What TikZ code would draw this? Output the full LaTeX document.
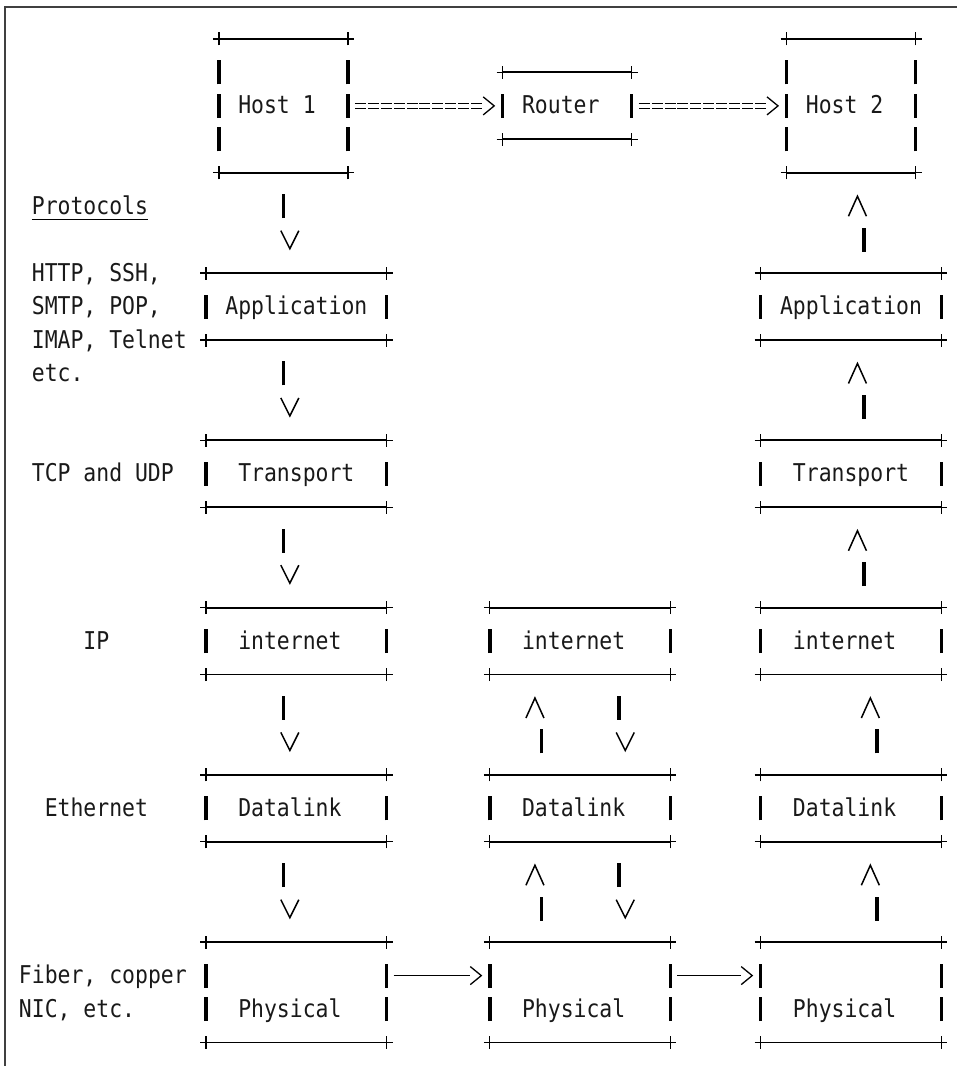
\documentclass[tikz,border=0pt]{standalone}
\usepackage{fontspec}
\newfontfamily\asciifont[FakeStretch=0.875]{DejaVu Sans Mono}

% centre of a character cell
\newcommand{\cx}[1]{\zerox+(#1)*\colw}
\newcommand{\cy}[1]{\zeroy-(#1)*\rowh}

% box of + - and | : left col, right col, top row, bottom row
\newcommand{\asciibox}[4]{%
	\draw[dashrule] ({\cx{#1}},{\cy{#3}}) -- ({\cx{#2}},{\cy{#3}});
	\draw[dashrule] ({\cx{#1}},{\cy{#4}}) -- ({\cx{#2}},{\cy{#4}});
	\pgfmathtruncatemacro{\rowa}{#3+1}%
	\pgfmathtruncatemacro{\rowb}{#4-1}%
	\foreach \bx in {#1,#2}{%
		\foreach \by in {#3,#4}
			\draw[plusmark] ({\cx{\bx}},{\cy{\by}}) ++(-6,0) -- ++(12,0) ++(-6,-6.5) -- ++(0,13);
		\foreach \by in {\rowa,...,\rowb}
			\draw[sidebar] ({\cx{\bx}},{\cy{\by}}) ++(0,-12) -- ++(0,24);
	}%
}

% | over V
\newcommand{\arrowdown}[2]{%
	\draw[sidebar] ({\cx{#1}},{\cy{#2}}) ++(0,-12) -- ++(0,24);
	\draw[chev] ({\cx{#1+0.5}},{\cy{#2+1}}) ++(-9,9) -- ++(9,-18) -- ++(9,18);
}

% ^ over |
\newcommand{\arrowup}[2]{%
	\draw[chev] ({\cx{#1}},{\cy{#2}}) ++(-9,-10) -- ++(9,20) -- ++(9,-20);
	\draw[sidebar] ({\cx{#1+0.5}},{\cy{#2+1}}) ++(0,-12) -- ++(0,24);
}

% > just before a bar
\newcommand{\arrowtip}[1]{%
	\draw[headline] ([shift={(-19.5,9)}]#1) -- ([xshift=-8.5pt]#1) -- ([shift={(-19.5,-9)}]#1);
}

\begin{document}
\begin{tikzpicture}[x=1pt,y=1pt,
	dashrule/.style={line width=1.9pt},
	plusmark/.style={line width=1.3pt},
	sidebar/.style={line width=3.4pt},
	chev/.style={line width=1.5pt},
	headline/.style={line width=1.3pt},
	dashline/.style={line width=1.7pt},
	eqline/.style={double,line width=1.1pt,double distance=3.4pt,dash pattern=on 11pt off 1.9pt},
	uline/.style={line width=1.4pt},
	screenframe/.style={line width=2.3pt,black!75},
	lbl/.style={font=\asciifont\fontsize{24.5}{24.5}\selectfont,anchor=base west,inner sep=0pt,outer sep=0pt,text=black!90}]
	
	\pgfmathsetmacro{\zerox}{25.4}
	\pgfmathsetmacro{\zeroy}{1027}
	\pgfmathsetmacro{\colw}{12.9}
	\pgfmathsetmacro{\rowh}{33.45}
	
	\useasboundingbox (0,0) rectangle (957,1066);
	
	% draw outline
	\draw[screenframe] (5,0) -- (5,1059) -- (957,1059);
	
	% hosts and router
	\asciibox{15}{25}{0}{4}
	\asciibox{37}{47}{1}{3}
	\asciibox{59}{69}{0}{4}
	
	% layer boxes
	\foreach \ly in {7,12,17,22}{
		\asciibox{14}{28}{\ly}{\ly+2}
		\asciibox{57}{71}{\ly}{\ly+2}
	}
	\foreach \ly in {17,22}{
		\asciibox{36}{50}{\ly}{\ly+2}
	}
	\asciibox{14}{28}{27}{30}
	\asciibox{36}{50}{27}{30}
	\asciibox{57}{71}{27}{30}
	
	% vertical arrows
	\foreach \ly in {5,10,15,20,25}{
		\arrowdown{20}{\ly}
	}
	\foreach \ly in {5,10,15}{
		\arrowup{64.5}{\ly}
	}
	\foreach \ly in {20,25}{
		\arrowup{39.5}{\ly}
		\arrowdown{46}{\ly}
		\arrowup{65.5}{\ly}
	}
	
	% ends of the horizontal links
	\coordinate (h1r) at ({\cx{25}},{\cy{2}});
	\coordinate (rtl) at ({\cx{37}},{\cy{2}});
	\coordinate (rtr) at ({\cx{47}},{\cy{2}});
	\coordinate (h2l) at ({\cx{59}},{\cy{2}});
	\coordinate (ph1r) at ({\cx{28}},{\cy{28}});
	\coordinate (ph2l) at ({\cx{36}},{\cy{28}});
	\coordinate (ph2r) at ({\cx{50}},{\cy{28}});
	\coordinate (ph3l) at ({\cx{57}},{\cy{28}});
	
	% horizontal links
	\draw[eqline] ([xshift=7pt]h1r) -- ([xshift=-19.5pt]rtl);
	\arrowtip{rtl}
	\draw[eqline] ([xshift=7pt]rtr) -- ([xshift=-19.5pt]h2l);
	\arrowtip{h2l}
	\draw[dashline] ([xshift=7pt]ph1r) -- ([xshift=-19.5pt]ph2l);
	\arrowtip{ph2l}
	\draw[dashline] ([xshift=7pt]ph2r) -- ([xshift=-19.5pt]ph3l);
	\arrowtip{ph3l}
	
	% box names
	\path[every node/.style=lbl]
		({\cx{17}-6.45},{\cy{2}-8})  node (host1) {Host 1}
		({\cx{39}-6.45},{\cy{2}-8})  node (router) {Router}
		({\cx{61}-6.45},{\cy{2}-8})  node (host2) {Host 2}
		({\cx{16}-6.45},{\cy{8}-8})  node (app1) {Application}
		({\cx{59}-6.45},{\cy{8}-8})  node (app3) {Application}
		({\cx{17}-6.45},{\cy{13}-8}) node (tra1) {Transport}
		({\cx{60}-6.45},{\cy{13}-8}) node (tra3) {Transport}
		({\cx{17}-6.45},{\cy{18}-8}) node (net1) {internet}
		({\cx{39}-6.45},{\cy{18}-8}) node (net2) {internet}
		({\cx{60}-6.45},{\cy{18}-8}) node (net3) {internet}
		({\cx{17}-6.45},{\cy{23}-8}) node (dl1) {Datalink}
		({\cx{39}-6.45},{\cy{23}-8}) node (dl2) {Datalink}
		({\cx{60}-6.45},{\cy{23}-8}) node (dl3) {Datalink}
		({\cx{17}-6.45},{\cy{29}-8}) node (ph1) {Physical}
		({\cx{39}-6.45},{\cy{29}-8}) node (ph2) {Physical}
		({\cx{60}-6.45},{\cy{29}-8}) node (ph3) {Physical};
	
	% protocols on the left
	\path[every node/.style=lbl]
		({\cx{1}-6.45},{\cy{5}-8})  node (proto) {Protocols}
		({\cx{1}-6.45},{\cy{7}-8})  node (appa) {HTTP, SSH,}
		({\cx{1}-6.45},{\cy{8}-8})  node (appb) {SMTP, POP,}
		({\cx{1}-6.45},{\cy{9}-8})  node (appc) {IMAP, Telnet}
		({\cx{1}-6.45},{\cy{10}-8}) node (appd) {etc.}
		({\cx{1}-6.45},{\cy{13}-8}) node (tcp) {TCP and UDP}
		({\cx{5}-6.45},{\cy{18}-8}) node (ip) {IP}
		({\cx{2}-6.45},{\cy{23}-8}) node (eth) {Ethernet}
		({\cx{0}-6.45},{\cy{28}-8}) node (fib) {Fiber, copper}
		({\cx{0}-6.45},{\cy{29}-8}) node (nic) {NIC, etc.};
	\draw[uline] ([yshift=-5pt]proto.base west) -- ([yshift=-5pt]proto.base east);
	
\end{tikzpicture}
\end{document}
